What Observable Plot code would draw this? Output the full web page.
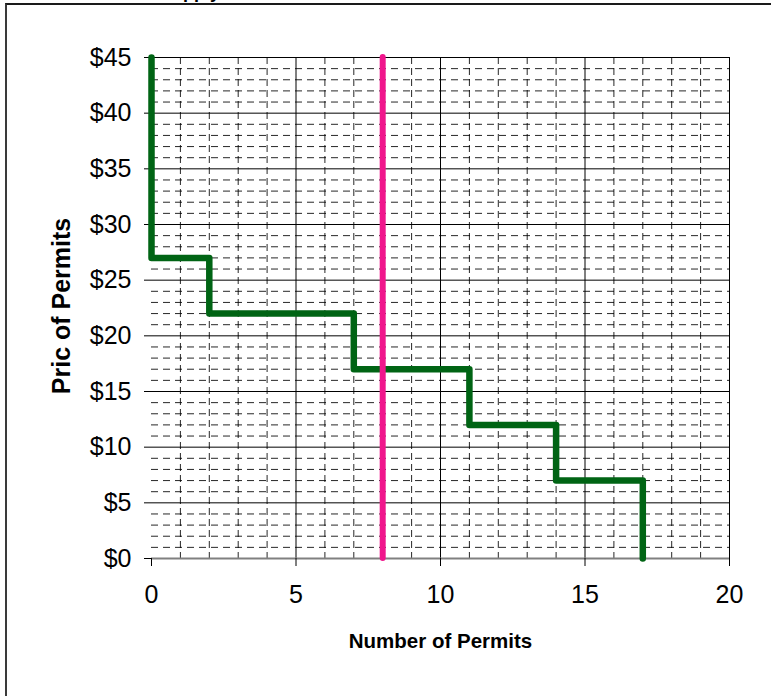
<!DOCTYPE html>
<html>
<head>
<meta charset="utf-8">
<script src="https://cdn.jsdelivr.net/npm/d3@7"></script>
<script src="https://cdn.jsdelivr.net/npm/@observablehq/plot@0.6"></script>
<style>
  html, body { margin: 0; padding: 0; background: #fff; overflow: hidden; }
  body { width: 771px; height: 696px; position: relative; font-family: "Liberation Sans", Arial, sans-serif; }
  #title { position: absolute; left: 160px; top: -18px; font-size: 18px; font-weight: bold; line-height: 21px; color: #000; white-space: nowrap; }
  #frame { position: absolute; left: 5px; top: 3px; width: 900px; height: 900px; border-left: 2px solid #3a3a3a; border-top: 2px solid #1a1a1a; }
  #chart { position: absolute; left: 0; top: 0; }
</style>
</head>
<body>
<div id="title">Supply</div>
<div id="frame"></div>
<div id="chart"></div>
<script>
// Demand step curve (number of permits, price)
const stepPermits = [0, 0, 2, 2, 7, 7, 11, 11, 14, 14, 17, 17];
const stepPrice   = [45, 27, 27, 22, 22, 17, 17, 12, 12, 7, 7, 0];
// Fixed supply of permits (vertical line)
const supplyPermits = [8];
// Axis ticks
const xTicks = [0, 5, 10, 15, 20];
const yTicks = [0, 5, 10, 15, 20, 25, 30, 35, 40, 45];
const xMinor = d3.range(1, 20).filter(d => d % 5 !== 0);
const yMinor = d3.range(1, 45).filter(d => d % 5 !== 0);
const xLabel = "Number of Permits";
const yLabel = "Pric of Permits";

const steps = stepPermits.map((x, i) => ({x, y: stepPrice[i]}));

const chart = Plot.plot({
  width: 771,
  height: 696,
  marginLeft: 151,
  marginRight: 42,
  marginTop: 57,
  marginBottom: 138,
  style: {fontFamily: "'Liberation Sans', Arial, sans-serif", fontSize: "20px", color: "#000", background: "transparent"},
  x: {domain: [0, 20]},
  y: {domain: [0, 45]},
  marks: [
    Plot.ruleX(xMinor, {stroke: "#000", strokeWidth: 1, strokeDasharray: "7,4", strokeOpacity: 0.85}),
    Plot.ruleY(yMinor, {stroke: "#000", strokeWidth: 1, strokeDasharray: "7,5", strokeOpacity: 0.85}),
    Plot.ruleX([5, 10, 15, 20], {stroke: "#000", strokeWidth: 1}),
    Plot.ruleY(yTicks.filter(d => d > 0), {stroke: "#000", strokeWidth: 1}),
    Plot.ruleY([0], {stroke: "#808080", strokeWidth: 2}),
    Plot.axisX({ticks: xTicks, tickSize: 8, tickPadding: 19, label: null, fontSize: 25, stroke: "#000"}),
    Plot.axisY({ticks: yTicks, tickSize: 7, tickPadding: 13, tickFormat: d => "$" + d, label: null, fontSize: 25, stroke: "#000"}),
    Plot.line(steps, {x: "x", y: "y", stroke: "#006414", strokeWidth: 6.5, strokeLinecap: "round", strokeLinejoin: "round"}),
    Plot.ruleX(supplyPermits, {y1: 0, y2: 45, stroke: "#F0168C", strokeWidth: 6, strokeLinecap: "round"}),
    Plot.text([yLabel], {frameAnchor: "left", dx: -90, dy: -2, rotate: -90, text: d => d, fontWeight: "bold", fontSize: 25, textAnchor: "middle", lineAnchor: "middle"}),
    Plot.text([xLabel], {frameAnchor: "bottom", dy: 83, text: d => d, fontWeight: "bold", fontSize: 20.5, textAnchor: "middle", lineAnchor: "middle"})
  ]
});
document.getElementById("chart").appendChild(chart);
</script>
</body>
</html>
